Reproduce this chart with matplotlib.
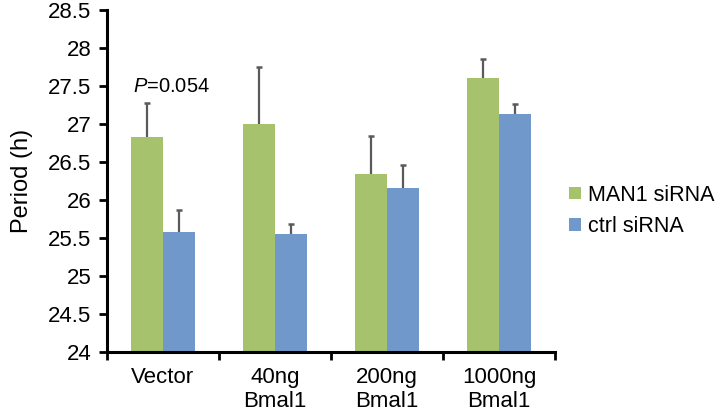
import numpy as np
import matplotlib
matplotlib.use("Agg")
from matplotlib import pyplot as plt

plt.rcParams['font.family'] = ['Liberation Sans', 'DejaVu Sans']
plt.rcParams['mathtext.fontset'] = 'custom'
plt.rcParams['mathtext.it'] = 'Liberation Sans:italic'
plt.rcParams['mathtext.rm'] = 'Liberation Sans'

categories = ['Vector', '40ng\nBmal1', '200ng\nBmal1', '1000ng\nBmal1']
man1 = [26.83, 27.00, 26.34, 27.61]
man1_err = [0.45, 0.75, 0.50, 0.25]
ctrl = [25.58, 25.55, 26.16, 27.13]
ctrl_err = [0.29, 0.13, 0.30, 0.13]
yticks = [24, 24.5, 25, 25.5, 26, 26.5, 27, 27.5, 28, 28.5]

green = '#A6C26C'
blue = '#7098CB'
errc = '#5a5a5a'

fig = plt.figure(figsize=(7.22, 4.17), dpi=100)
ax = fig.add_axes([0.148, 0.156, 0.621, 0.82])

x = np.arange(len(categories))
w = 0.286
ax.bar(x - w/2, np.array(man1) - 24, w, bottom=24, color=green, label='MAN1 siRNA')
ax.bar(x + w/2, np.array(ctrl) - 24, w, bottom=24, color=blue, label='ctrl siRNA')

# upper error bars only
for xs, vals, errs in [(x - w/2, man1, man1_err), (x + w/2, ctrl, ctrl_err)]:
    tops = np.array(vals) + np.array(errs)
    ax.vlines(xs, vals, tops, color=errc, lw=1.6)
    ax.plot(xs, tops, ls='none', marker='_', ms=5, mew=1.8, color=errc)

ax.set_xlim(-0.5, 3.5)
ax.set_ylim(24, 28.5)
ax.set_yticks(yticks)
ax.set_yticklabels([f'{t:g}' for t in yticks], fontsize=16)
ax.set_xticks(x)
ax.set_xticklabels(categories, fontsize=16, linespacing=1.2)
ax.set_xticks(np.arange(-0.5, 4, 1), minor=True)
ax.tick_params(axis='x', which='major', length=0, pad=11)
ax.tick_params(axis='x', which='minor', length=6, width=2, direction='out')
ax.tick_params(axis='y', length=6, width=2, direction='out', pad=5)

for s in ['top', 'right']:
    ax.spines[s].set_visible(False)
for s in ['left', 'bottom']:
    ax.spines[s].set_linewidth(2.2)

ax.set_ylabel('Period (h)', fontsize=17)
ax.yaxis.set_label_coords(-0.165, 0.5)

ax.text(-0.27, 27.49, r'$P$=0.054', fontsize=14.5, va='center', ha='left')

fig.legend(loc='center left', bbox_to_anchor=(0.788, 0.494), frameon=False,
           borderaxespad=0, borderpad=0,
           fontsize=15.5, handlelength=0.55, handleheight=0.55, handletextpad=0.35,
           labelspacing=0.5)

fig.savefig('out.png', dpi=100)
